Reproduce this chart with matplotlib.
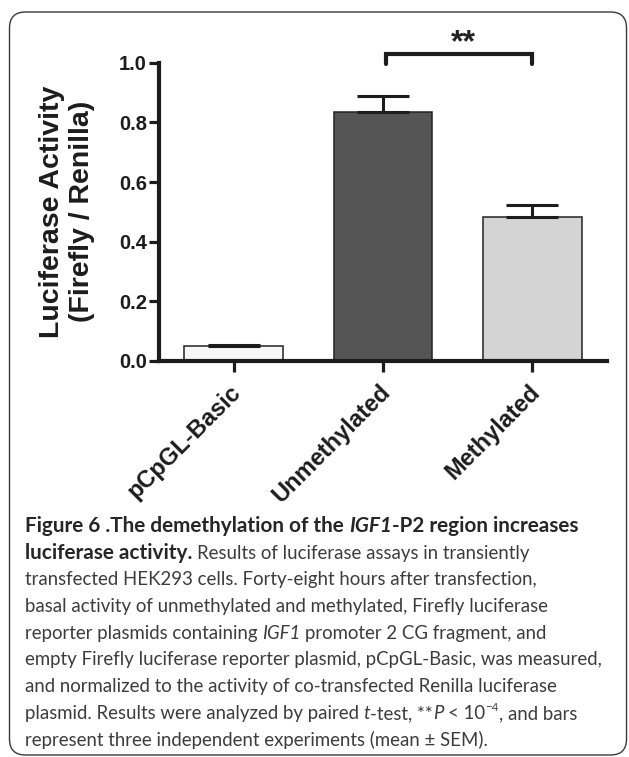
import matplotlib
matplotlib.use("Agg")
import matplotlib.pyplot as plt
from matplotlib.patches import FancyBboxPatch
from matplotlib.transforms import IdentityTransform, ScaledTranslation

# ---------------- data ----------------
categories = ["pCpGL-Basic", "Unmethylated", "Methylated"]
means = [0.050, 0.835, 0.484]
sem = [0.004, 0.053, 0.038]
bar_colors = ["#f7f7f7", "#555555", "#d4d4d4"]
yticks = [0.0, 0.2, 0.4, 0.6, 0.8, 1.0]
ylabel = "Luciferase Activity\n(Firefly / Renilla)"
sig_left, sig_right = 1.02, 2.0
sig_y, sig_drop = 1.028, 0.995
sig_text = "**"

caption = [
    [("Figure 6 .The demethylation of the ", "b"), ("IGF1", "bi"), ("-P2 region increases", "b")],
    [("luciferase activity.", "b"), (" Results of luciferase assays in transiently", "r")],
    [("transfected HEK293 cells. Forty-eight hours after transfection,", "r")],
    [("basal activity of unmethylated and methylated, Firefly luciferase", "r")],
    [("reporter plasmids containing ", "r"), ("IGF1", "i"), (" promoter 2 CG fragment, and", "r")],
    [("empty Firefly luciferase reporter plasmid, pCpGL-Basic, was measured,", "r")],
    [("and normalized to the activity of co-transfected Renilla luciferase", "r")],
    [("plasmid. Results were analyzed by paired ", "r"), ("t", "i"), ("-test, **", "r"),
     ("P", "i"), (" < 10", "r"), ("\u22124", "sup"), (", and bars", "r")],
    [("represent three independent experiments (mean \u00b1 SEM).", "r")],
]

# ---------------- figure ----------------
W, H = 629, 757
plt.rcParams["font.family"] = ["Liberation Sans", "DejaVu Sans"]
fig = plt.figure(figsize=(W / 100, H / 100), dpi=100)
fig.patch.set_facecolor("white")

box = FancyBboxPatch((9.5, H - 755), 617, 743,
                     boxstyle="round,pad=0,rounding_size=16",
                     transform=IdentityTransform(), fill=False,
                     edgecolor="#3a3a3a", linewidth=1.0)
fig.add_artist(box)

ink = "#1c1c1c"
ax = fig.add_axes([159 / W, 1 - 361 / H, 448 / W, 298.3 / H])
xpos = list(range(len(categories)))
ax.bar(xpos, means, width=0.66, color=bar_colors, edgecolor="#222222",
       linewidth=1.1, zorder=2)
ax.errorbar(xpos, means, yerr=[[0] * len(sem), sem], fmt="none", ecolor=ink,
            elinewidth=2.2, capsize=18.7, capthick=2.2, zorder=3)

ax.set_xlim(-0.5, 2.5)
ax.set_ylim(0, 1.0)
for s in ("top", "right"):
    ax.spines[s].set_visible(False)
for s in ("left", "bottom"):
    ax.spines[s].set_linewidth(3.0)
    ax.spines[s].set_color(ink)

ax.set_yticks(yticks)
ax.set_yticklabels([f"{v:.1f}" for v in yticks], fontweight="bold")
ax.tick_params(axis="y", direction="out", length=7.2, width=2.3, pad=1.5,
               labelsize=14.5, colors=ink)
ax.set_xticks(xpos)
ax.set_xticklabels(categories, rotation=45, ha="right", va="center",
                   rotation_mode="anchor", fontweight="bold", fontsize=17)
ax.tick_params(axis="x", direction="out", length=8, width=2.3, pad=12,
               colors=ink)
off = ScaledTranslation(4 / 100, 0, fig.dpi_scale_trans)
for lbl in ax.get_xticklabels():
    lbl.set_transform(lbl.get_transform() + off)

fig.text(67 / W, 1 - 211.5 / H, ylabel, rotation=90, ha="center", va="center",
         multialignment="center", fontsize=20.5, fontweight="bold", color=ink)

ax.plot([sig_left, sig_left, sig_right, sig_right],
        [sig_drop, sig_y, sig_y, sig_drop], color=ink, lw=3,
        clip_on=False, solid_capstyle="round", solid_joinstyle="miter", zorder=4)
ax.text((sig_left + sig_right) / 2 + 0.03, 1.04, sig_text, ha="center",
        va="baseline", fontsize=23, fontweight="bold", color="#222222",
        clip_on=False)

# ---------------- caption ----------------
renderer = fig.canvas.get_renderer()
cap_font = "Lato"


def props(style, fs, fsb):
    p = dict(family=[cap_font, "DejaVu Sans"], fontsize=fs, color="#3c3c3c")
    if style in ("b", "bi"):
        p["fontweight"] = "bold"
        p["color"] = "#262626"
        p["fontsize"] = fsb
    if style in ("i", "bi"):
        p["fontstyle"] = "italic"
    if style == "sup":
        p["fontsize"] = fs * 0.62
    return p


def text_w(s, p):
    t = fig.text(0, 0, s, **p)
    w = t.get_window_extent(renderer).width
    t.remove()
    return w


def space_w(p):
    return text_w("a a", p) - text_w("aa", p)


def line_width(segs, fs, fsb):
    total = 0.0
    for s, st in segs:
        p = props(st, fs, fsb)
        lead = len(s) - len(s.lstrip(" "))
        trail = len(s) - len(s.rstrip(" "))
        core = s.strip(" ")
        total += (lead + trail) * space_w(p) + (text_w(core, p) if core else 0)
    return total


base = 10.0
fs = base * 577.0 / line_width(caption[5], base, base)
fsb = base * 557.0 / line_width(caption[0], base, base)

x0 = 25.0
y0 = 532.0
dy_line = 26.7
for i, segs in enumerate(caption):
    x = x0
    yb = y0 + i * dy_line
    for s, st in segs:
        p = props(st, fs, fsb)
        lead = len(s) - len(s.lstrip(" "))
        trail = len(s) - len(s.rstrip(" "))
        core = s.strip(" ")
        sw = space_w(p)
        x += lead * sw
        raise_px = 0.42 * fs * 100 / 72 if st == "sup" else 0.0
        t = fig.text(x / W, (H - yb + raise_px) / H, core, ha="left",
                     va="baseline", **p)
        x += t.get_window_extent(renderer).width + trail * sw

fig.savefig("out.png", dpi=100)
